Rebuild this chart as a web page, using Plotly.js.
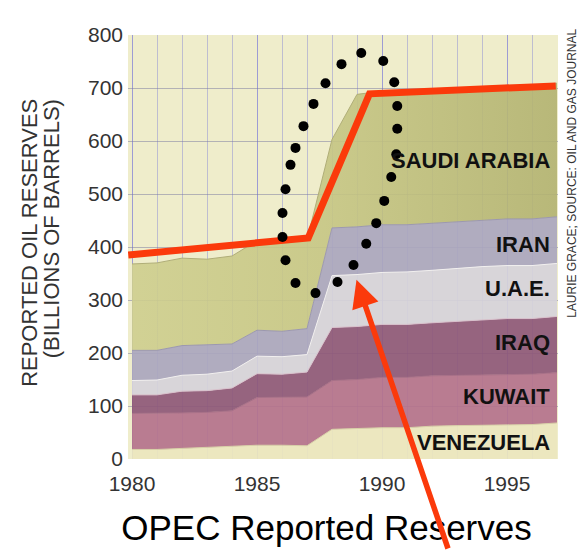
<!DOCTYPE html>
<html>
<head>
<meta charset="utf-8">
<script src="https://cdn.plot.ly/plotly-3.0.1.min.js"></script>
<style>html,body{margin:0;padding:0;background:#fff;}#chart{width:582px;height:550px;}</style>
</head>
<body>
<div id="chart"></div>
<script>
// ---- data (billions of barrels) ----
const years     = [1980,1981,1982,1983,1984,1985,1986,1987,1988,1989,1990,1991,1992,1993,1994,1995,1996,1997];
const venezuela = [18,18,20,22,25,26,26,25,56,58,59,59,62,63,64,65,65,68];
const kuwait    = [68,68,67,66,66,90,90,92,92,92,95,95,95,95,95,95,95,95];
const iraq      = [35,35,41,41,43,45,44,47,100,100,100,100,100,102,104,105,105,106];
const uae       = [27,28,30,31,32,33,33,33,98,98,98,99,99,100,100,100,100,100];
const iran      = [57,56,56,55,51,49,48,49,90,90,90,89,89,88,88,88,88,88];
const saudi     = [163,165,165,162,166,169,169,167,167,250,252,252,252,252,252,252,252,252];

// overlay: red trend line and dotted loop
const trendX = [1979.85,1987.05,1989.5,1996.95];
const trendY = [385,417,689,704];
const loopX = [1989.17,1990.05,1990.49,1990.61,1990.61,1990.57,1990.37,1990.09,1989.77,1989.37,1988.86,1988.22,1987.34,1986.54,1986.14,1986.02,1986.02,1986.14,1986.34,1986.54,1986.86,1987.26,1987.74,1988.38];
const loopY = [766,751,711,666,623,575,532,487,445,406,366,334,313,332,375,419,464,509,555,587,628,670,709,745];

const series = [
  {name:'VENEZUELA',    y:venezuela, fill:'rgba(236,230,190,0.92)', line:'#d8d0a8'},
  {name:'KUWAIT',       y:kuwait,    fill:'rgba(180,114,140,0.92)', line:'#a87088'},
  {name:'IRAQ',         y:iraq,      fill:'rgba(142,88,120,0.92)',  line:'#d8c0cc'},
  {name:'U.A.E.',       y:uae,       fill:'rgba(214,211,218,0.92)', line:'#f2f0f0'},
  {name:'IRAN',         y:iran,      fill:'rgba(170,166,190,0.92)', line:'#9c98b0'},
  {name:'SAUDI ARABIA', y:saudi,     fill:'rgba(188,188,122,0.90)', line:'#b0ae78',
   grad:[[0,'rgba(206,206,142,0.9)'],[0.45,'rgba(198,198,132,0.9)'],[1,'rgba(178,178,112,0.9)']]}
];

const traces = series.map(s => {
  const t = {
    type:'scatter', mode:'lines', x:years, y:s.y, name:s.name,
    stackgroup:'one', fillcolor:s.fill, line:{color:s.line, width:1},
    hoverinfo:'skip'
  };
  if (s.grad) t.fillgradient = {type:'horizontal', colorscale:s.grad};
  return t;
});

traces.push({type:'scatter', mode:'lines', x:trendX, y:trendY,
  line:{color:'#fb3a0b', width:7}, hoverinfo:'skip'});
traces.push({type:'scatter', mode:'markers', x:loopX, y:loopY, cliponaxis:false,
  marker:{color:'#000', size:10}, hoverinfo:'skip'});

const labelFont = {family:'"Liberation Sans", Arial, sans-serif', size:22, color:'#111', weight:'bold'};
const labels = [
  {t:'SAUDI ARABIA', y:564},
  {t:'IRAN', y:404},
  {t:'U.A.E.', y:321},
  {t:'IRAQ', y:219},
  {t:'KUWAIT', y:117},
  {t:'VENEZUELA', y:32}
];
const annotations = labels.map(l => ({
  text:l.t, x:1996.8, y:l.y, xref:'x', yref:'y', xanchor:'right', yanchor:'middle',
  showarrow:false, font:labelFont
}));

annotations.push({text:'REPORTED OIL RESERVES', textangle:-90, xref:'paper', yref:'paper',
  x:-0.228, y:0.854, xanchor:'center', yanchor:'top', showarrow:false,
  font:{family:'Arial, "Liberation Sans", sans-serif', size:22, color:'#333'}});
annotations.push({text:'(BILLIONS OF BARRELS)', textangle:-90, xref:'paper', yref:'paper',
  x:-0.177, y:0.854, xanchor:'center', yanchor:'top', showarrow:false,
  font:{family:'Arial, "Liberation Sans", sans-serif', size:22, color:'#333'}});
annotations.push({text:'LAURIE GRACE; SOURCE: OIL AND GAS JOURNAL', textangle:-90, xref:'paper', yref:'paper',
  x:1.053, y:1.02, xanchor:'right', yanchor:'top', showarrow:false,
  font:{family:'Arial, "Liberation Sans", sans-serif', size:12, color:'#333'}});
annotations.push({text:'', x:1988.98, y:338, xref:'x', yref:'y', showarrow:true,
  ax:92, ay:285, arrowhead:2, arrowsize:1, arrowwidth:5.5, arrowcolor:'#fb3a0b'});

const layout = {
  width:582, height:550,
  margin:{l:128, r:24, t:35, b:91},
  paper_bgcolor:'#ffffff', plot_bgcolor:'#efedcb',
  showlegend:false,
  title:{text:'OPEC Reported Reserves', font:{family:'Arial, "Liberation Sans", sans-serif', size:35, color:'#000'},
    x:0.561, xanchor:'center', xref:'container', y:0.04, yanchor:'middle', yref:'container'},
  xaxis:{range:[1979.84,1997.04], tickvals:[1980,1985,1990,1995], ticktext:['1980','1985','1990','1995'],
    showgrid:true, gridcolor:'rgba(130,130,215,0.55)', gridwidth:1,
    minor:{dtick:1, tick0:1980, showgrid:true, gridcolor:'rgba(130,130,215,0.45)', gridwidth:1},
    zeroline:false, showline:false, ticks:'', ticklabelstandoff:10,
    tickfont:{family:'Arial, "Liberation Sans", sans-serif', size:21, color:'#333'}},
  yaxis:{range:[0,800], tickvals:[0,100,200,300,400,500,600,700,800],
    showgrid:true, gridcolor:'rgba(120,120,160,0.5)', gridwidth:1,
    zeroline:false, showline:false, ticks:'', ticklabelstandoff:4,
    tickfont:{family:'Arial, "Liberation Sans", sans-serif', size:21, color:'#333'}},
  annotations:annotations
};

Plotly.newPlot('chart', traces, layout, {staticPlot:true, displayModeBar:false});
</script>
</body>
</html>
